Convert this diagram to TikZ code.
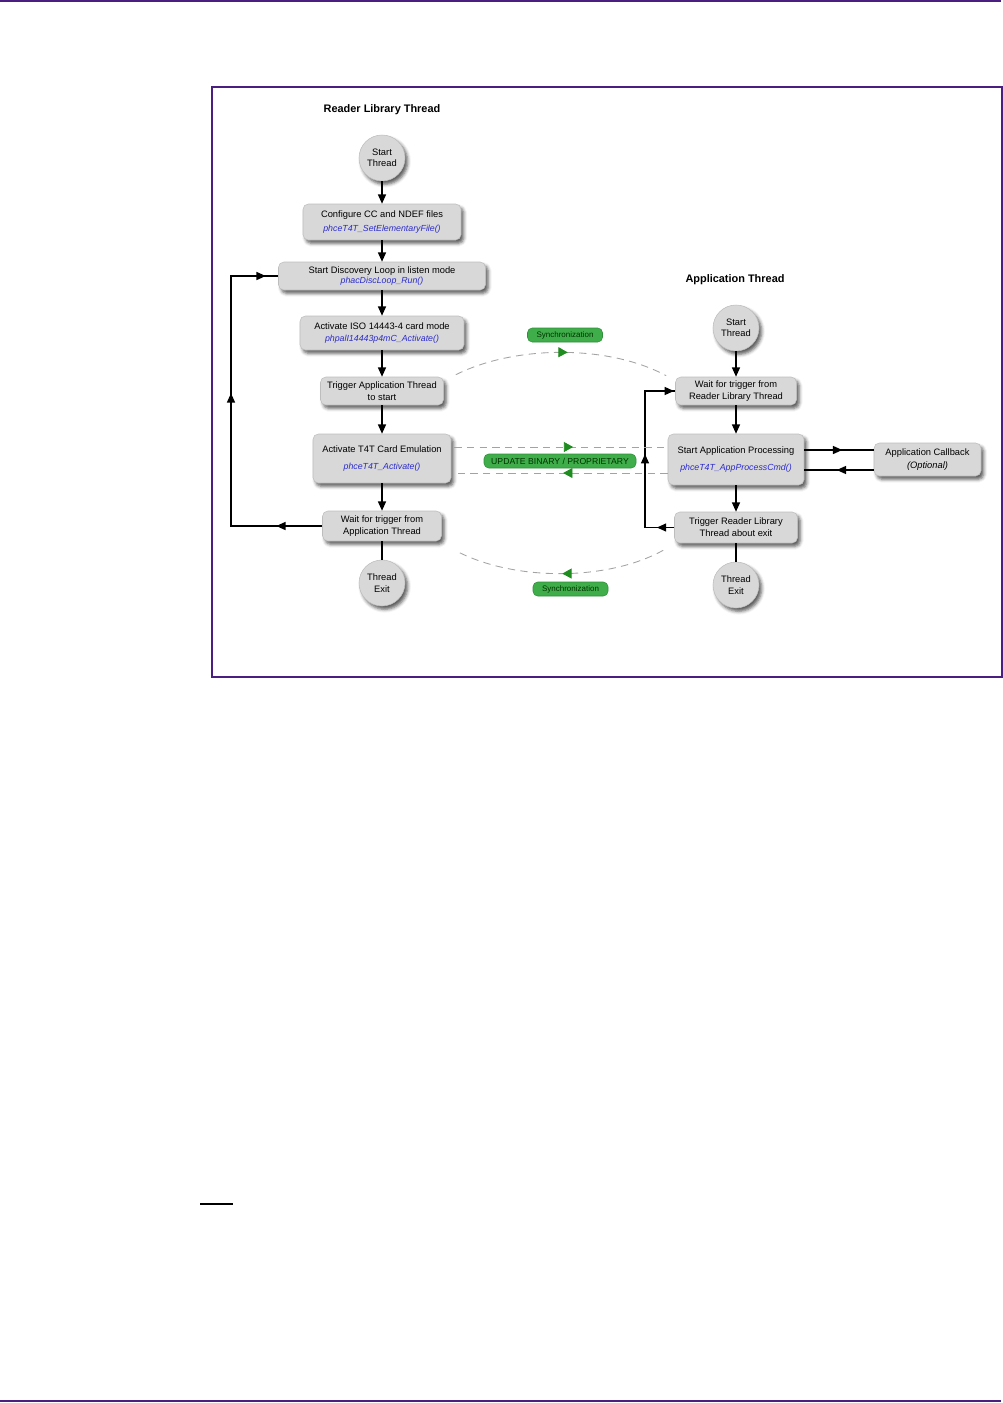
\documentclass[tikz,border=0pt]{standalone}
\usepackage{fontspec}
\setmainfont{Liberation Sans}
\usetikzlibrary{arrows.meta,shadows,shadows.blur,decorations.markings,calc}
\definecolor{nxppurple}{HTML}{4B1F7F}
\definecolor{boxgray}{HTML}{D8D8D8}
\definecolor{boxedge}{HTML}{BDBDBD}
\definecolor{fnblue}{HTML}{2B2BCC}
\definecolor{pillgreen}{HTML}{3FAE4A}
\definecolor{pillborder}{HTML}{2F8F3A}
\definecolor{syncgreen}{HTML}{1E8C1E}
\definecolor{dashgray}{HTML}{A3A3A3}
\newcommand\fnname[1]{{\color{fnblue}\itshape\fontsize{6.6}{9}\selectfont #1}}
\tikzset{
  shad/.style={blur shadow={shadow xshift=2pt, shadow yshift=-2.5pt, shadow blur radius=2.5pt, shadow opacity=65}},
  box/.style={draw=boxedge, fill=boxgray, rounded corners=4pt, align=center, inner sep=1pt,
    font=\fontsize{7}{9}\selectfont, shad},
  wd/.style={minimum width=#1*0.75pt},
  ht/.style={minimum height=#1*0.75pt},
  term/.style={circle, draw=boxedge, fill=boxgray, minimum size=34.5pt, align=center, inner sep=0pt,
    font=\fontsize{7}{8.5}\selectfont, shad},
  title/.style={font=\fontsize{8.2}{10}\selectfont\bfseries},
  flow/.style={line width=1.1pt, black},
  arr/.style={-{Triangle[length=7pt,width=6pt]}},
  pill/.style={fill=pillgreen, draw=pillborder, rounded corners=3.5pt, text=black!80!green,
    inner xsep=2pt, inner ysep=0pt, minimum height=10.5pt},
  dashln/.style={dashgray, dash pattern=on 5.5pt off 4pt, line width=0.65pt},
  gmark/.style={postaction={decorate}, decoration={markings,
    mark=at position #1 with {\arrow{Triangle[length=7pt,width=7.5pt,color=syncgreen]}}}}
}
\begin{document}
\begin{tikzpicture}[x=0.75pt,y=-0.75pt]
\useasboundingbox (0,0) rectangle (1003,1403);
% page rules
\draw[nxppurple, line width=1.2pt] (0,1) -- (1001,1);
\draw[nxppurple, line width=1.2pt] (0,1401) -- (1001,1401);
\draw[black, line width=0.8pt] (200,1204) -- (233,1204);
% frame
\draw[nxppurple, line width=0.8pt] (212,87) rectangle (1002,677);

% ---------- Reader Library Thread ----------
\node[title] (rtitle) at (382,110) {Reader Library Thread};
\node[term] (rstart) at (382,158) {Start\\Thread};
\node[box, wd=158, ht=36] (cfg) at (382,222) {Configure CC and NDEF files\\[2.2pt]\fnname{phceT4T\_SetElementaryFile()}};
\node[box, wd=207, ht=28] (disc) at (382,276) {Start Discovery Loop in listen mode\\[-0.8pt]\fnname{phacDiscLoop\_Run()}};
\node[box, wd=164, ht=34] (iso) at (382,333) {Activate ISO 14443-4 card mode\\[0.7pt]\fnname{phpalI14443p4mC\_Activate()}};
\node[box, wd=123, ht=28] (trig) at (382,391) {Trigger Application Thread\\to start};
\node[box, wd=138, ht=49] (t4t) at (382,458.5) {Activate T4T Card Emulation\\[3.7pt]\fnname{phceT4T\_Activate()}};
\node[box, wd=119, ht=30] (rwait) at (382,526) {Wait for trigger from\\Application Thread};
\node[term] (rexit) at (382,583) {Thread\\Exit};

\draw[flow, arr] (rstart) -- (cfg);
\draw[flow, arr] (cfg) -- (disc);
\draw[flow, arr] (disc) -- (iso);
\draw[flow, arr] (iso) -- (trig);
\draw[flow, arr] (trig) -- (t4t);
\draw[flow, arr] (t4t) -- (rwait);
\draw[flow] (rwait) -- (rexit);

\coordinate (lloop) at (231,526);
\draw[flow, postaction={decorate}, decoration={markings,
    mark=at position 34.5pt with {\arrow{Triangle[length=7pt,width=6pt]}},
    mark=at position 168pt with {\arrow{Triangle[length=7pt,width=6pt]}},
    mark=at position 282pt with {\arrow{Triangle[length=7pt,width=6pt]}}}]
  (rwait.west) -- (lloop) |- (disc.west);

% ---------- Application Thread ----------
\node[title] (atitle) at (735,280) {Application Thread};
\node[term] (astart) at (736,328) {Start\\Thread};
\node[box, wd=121, ht=28] (await) at (736,391) {Wait for trigger from\\Reader Library Thread};
\node[box, wd=136, ht=51] (aproc) at (736,459.5) {Start Application Processing\\[3.7pt]\fnname{phceT4T\_AppProcessCmd()}};
\node[box, wd=123, ht=31] (atrig) at (736,527.5) {Trigger Reader Library\\Thread about exit};
\node[term] (aexit) at (736,585) {Thread\\Exit};
\node[box, wd=107, ht=33] (cb) at (927.5,459.5) {Application Callback\\[0.7pt]\textit{(Optional)}};

\draw[flow, arr] (astart) -- (await);
\draw[flow, arr] (await) -- (aproc);
\draw[flow, arr] (aproc) -- (atrig);
\draw[flow] (atrig) -- (aexit);

\coordinate (rloop) at (645,527.5);
\draw[flow, postaction={decorate}, decoration={markings,
    mark=at position 13pt with {\arrow{Triangle[length=7pt,width=6pt]}},
    mark=at position 77pt with {\arrow{Triangle[length=7pt,width=6pt]}},
    mark=at position 146pt with {\arrow{Triangle[length=7pt,width=6pt]}}}]
  (atrig.west) -- (rloop) |- (await.west);

\draw[flow, postaction={decorate}, decoration={markings,
    mark=at position 28.5pt with {\arrow{Triangle[length=7pt,width=6pt]}}}]
  ($(aproc.east)+(0,-9.5)$) -- ($(cb.west)+(0,-9.5)$);
\draw[flow, postaction={decorate}, decoration={markings,
    mark=at position 27.75pt with {\arrow{Triangle[length=7pt,width=6pt]}}}]
  ($(cb.west)+(0,10.5)$) -- ($(aproc.east)+(0,10.5)$);

% ---------- synchronization ----------
\draw[dashln, gmark=0.53]
  ($(trig.north east)+(12,-2)$) .. controls +(60,-30) and +(-57,-31) .. ($(await.north west)+(-9,-1)$);
\draw[dashln, gmark=0.49]
  ($(atrig.south west)+(-11,7)$) .. controls +(-56,31) and +(58,30) .. ($(rwait.south east)+(15,10)$);

\coordinate (d1) at ($(t4t.east)+(3,-11.5)$);
\coordinate (d2) at ($(t4t.east)+(3,14.5)$);
\draw[dashln, gmark=0.557] (d1) -- (d1 -| aproc.west);
\draw[dashln, gmark=0.49] (d2 -| aproc.west) -- (d2);

\node[pill, font=\fontsize{6}{7}\selectfont, minimum width=75*0.75pt] (sync1) at (565,335) {Synchronization};
\node[pill, font=\fontsize{6.5}{7.5}\selectfont, minimum width=152*0.75pt] (upd) at (560,461) {UPDATE BINARY / PROPRIETARY};
\node[pill, font=\fontsize{6}{7}\selectfont, minimum width=75*0.75pt] (sync2) at (570.5,589) {Synchronization};
\end{tikzpicture}
\end{document}
